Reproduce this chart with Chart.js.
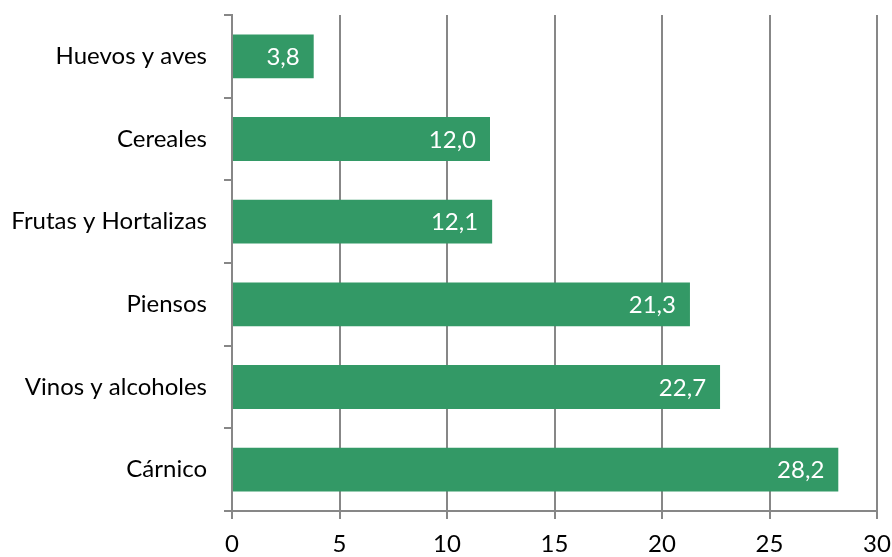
<!DOCTYPE html>
<html>
<head>
<meta charset="utf-8">
<script src="https://cdn.jsdelivr.net/npm/chart.js@4/dist/chart.umd.min.js"></script>
<style>
  html, body { margin: 0; padding: 0; background: #fff; }
  #wrap { width: 892px; height: 557px; }
</style>
</head>
<body>
<div id="wrap"><canvas id="myChart" width="892" height="557"></canvas></div>
<script>
// data
const categories = ["Huevos y aves", "Cereales", "Frutas y Hortalizas", "Piensos", "Vinos y alcoholes", "Cárnico"]
const values = [3.8, 12.0, 12.1, 21.3, 22.7, 28.2]
const xTicks = [0, 5, 10, 15, 20, 25, 30]

const green = "#339966"
const gridGray = "#878787"
const fontFamily = "Lato, 'Open Sans', sans-serif"
const fontSize = 24

// white value labels at the inside end of each bar
const insideLabels = {
    id: "insideLabels",
    afterDatasetsDraw(chart) {
        const ctx = chart.ctx
        const meta = chart.getDatasetMeta(0)
        ctx.save()
        ctx.fillStyle = "#ffffff"
        ctx.font = fontSize + "px " + fontFamily
        ctx.textAlign = "right"
        ctx.textBaseline = "middle"
        meta.data.forEach((bar, i) => {
            const txt = values[i].toFixed(1).replace(".", ",")
            ctx.fillText(txt, bar.x - 14, bar.y + 1)
        })
        ctx.restore()
    }
}

const ctx = document.getElementById("myChart").getContext("2d")
const myChart = new Chart(ctx, {
    type: "bar",
    data: {
        labels: categories,
        datasets: [
        {
            data: values,
            backgroundColor: green,
            borderWidth: 0,
            barPercentage: 0.53,
            categoryPercentage: 1,
        },
        ],
    },
    options: {
        indexAxis: "y",
        responsive: false,
        animation: false,
        layout: { padding: { top: 15, right: 15, left: 0, bottom: 0 } },
        plugins: {
            legend: { display: false },
            tooltip: { enabled: false },
        },
        scales: {
            x: {
                min: 0,
                max: 30,
                afterBuildTicks: axis => { axis.ticks = xTicks.map(v => ({ value: v })) },
                afterFit: axis => {
                    axis.height = 46
                    axis.paddingLeft = 0
                    axis.paddingRight = 0
                },
                grid: { color: gridGray, lineWidth: 2, tickLength: 8 },
                border: { color: gridGray, width: 2 },
                ticks: { color: "#000", font: { family: fontFamily, size: fontSize }, padding: 11 },
            },
            y: {
                offset: true,
                afterFit: axis => {
                    axis.width = 232
                    axis.paddingTop = 0
                    axis.paddingBottom = 0
                },
                grid: { offset: true, drawOnChartArea: false, color: gridGray, lineWidth: 2, tickLength: 8 },
                border: { color: gridGray, width: 2 },
                ticks: { color: "#000", font: { family: fontFamily, size: fontSize }, padding: 17 },
            },
        },
    },
    plugins: [insideLabels],
})
</script>
</body>
</html>
